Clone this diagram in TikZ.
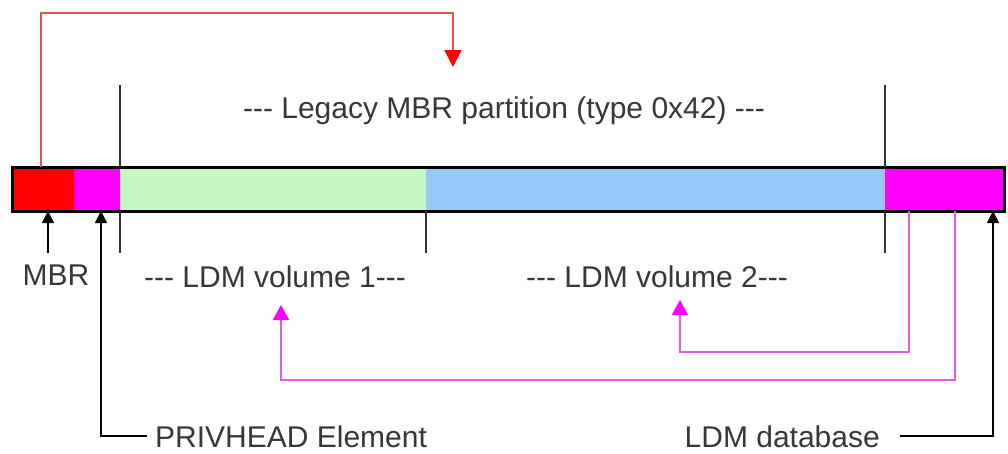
\documentclass[tikz,border=0pt]{standalone}
\usepackage{fontspec}
\setmainfont{Liberation Sans}
\usetikzlibrary{arrows.meta}
\definecolor{mred}{RGB}{255,0,0}
\definecolor{mmag}{RGB}{255,0,255}
\definecolor{mgreen}{RGB}{196,247,196}
\definecolor{mblue}{RGB}{150,200,248}
\definecolor{linemag}{RGB}{228,90,228}
\definecolor{linered}{RGB}{228,80,80}
\definecolor{txt}{RGB}{55,55,55}
\begin{document}
\begin{tikzpicture}[x=1pt,y=-1pt,
  seg/.style={draw=none, inner sep=0pt, outer sep=0pt, minimum height=44pt, anchor=north west},
  lbl/.style={font=\fontsize{30}{36}\selectfont, text=txt, inner sep=0pt, anchor=base},
  tick/.style={line width=1.6pt, draw=black!80},
  blk/.style={line width=1.8pt, draw=black, -{Triangle[length=12pt,width=12pt]}},
  mag/.style={line width=1.8pt, draw=linemag, -{Triangle[length=15pt,width=16pt,fill=mmag,color=mmag]}},
  redarr/.style={line width=1.8pt, draw=linered, -{Triangle[length=17pt,width=17pt,fill=mred,color=mred]}}
]
\useasboundingbox (0,0) rectangle (1008,453);
\fill[white] (0,0) rectangle (1008,453);

% bar segments
\node[seg, fill=mred,   minimum width=62pt]  (mbr)   at (12,167) {};
\node[seg, fill=mmag,   minimum width=46pt]  (priv)  at (74,167) {};
\node[seg, fill=mgreen, minimum width=306pt] (vol1)  at (120,167) {};
\node[seg, fill=mblue,  minimum width=459pt] (vol2)  at (426,167) {};
\node[seg, fill=mmag,   minimum width=119pt] (ldmdb) at (885,167) {};
\draw[line width=3pt] (mbr.north west) rectangle (ldmdb.south east);

% ticks
\draw[tick] (vol1.south west) -- ++(0,42) (vol1.north west) -- ++(0,-82);
\draw[tick] (vol2.south west) -- ++(0,42);
\draw[tick] (ldmdb.south west) -- ++(0,42) (ldmdb.north west) -- ++(0,-82);

% labels
\node[lbl] (legacy) at (504,118) {-{}-{}- Legacy MBR partition (type 0x42) -{}-{}-};
\node[lbl] (mbrlbl) at (56,285) {MBR};
\node[lbl] (vol1lbl) at (275,287) {-{}-{}- LDM volume 1-{}-{}-};
\node[lbl] (vol2lbl) at (657,287) {-{}-{}- LDM volume 2-{}-{}-};
\node[lbl, anchor=base west] (privlbl) at (155,447) {PRIVHEAD Element};
\node[lbl, anchor=base east] (dblbl) at (880,447) {LDM database};

% coordinates
\coordinate (r0) at (41,167);
\coordinate (rt) at (453,67);
\coordinate (m0) at (48,253);
\coordinate (m1) at (48,211);
\coordinate (p1) at (101,211);
\coordinate (d1) at (993,211);
\coordinate (g1) at (909,211);
\coordinate (g2) at (955,211);
\coordinate (t1) at (281,305);
\coordinate (t2) at (680,300);

% connectors
\draw[redarr] (r0) |- (453,13) -- (rt);
\draw[blk] (m0) -- (m1);
\draw[blk] ([xshift=-8pt]privlbl.west) -| (p1);
\draw[blk] ([xshift=20pt]dblbl.east) -| (d1);
\draw[mag] (g1) -- (909,352) -| (t2);
\draw[mag] (g2) -- (955,380) -| (t1);
\end{tikzpicture}
\end{document}
